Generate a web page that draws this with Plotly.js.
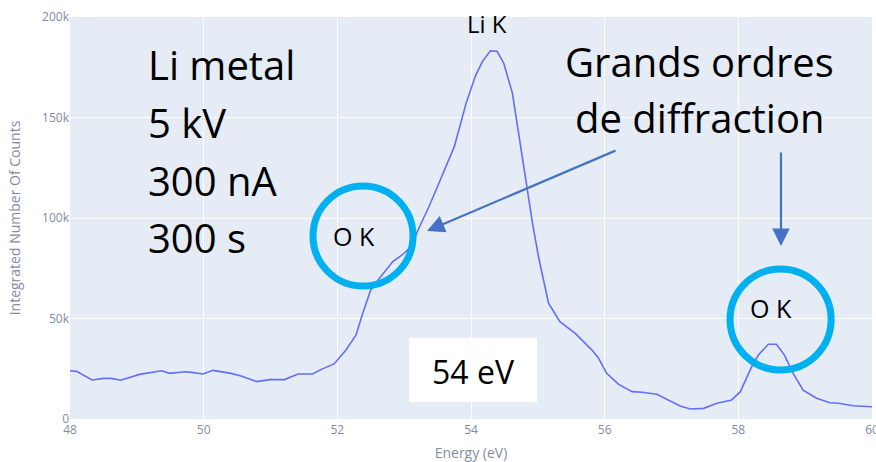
<!DOCTYPE html>
<html>
<head>
<meta charset="utf-8">
<script src="https://cdn.plot.ly/plotly-3.0.1.min.js"></script>
<style>html,body{margin:0;padding:0;background:#fff;}#chart{width:876px;height:462px;}</style>
</head>
<body>
<div id="chart"></div>
<script>
// Energy (eV)
const energy = [48.00,48.10,48.33,48.50,48.62,48.76,49.04,49.19,49.37,49.49,49.72,49.82,49.99,50.14,50.29,50.41,50.56,50.79,50.99,51.21,51.41,51.63,51.76,51.95,52.13,52.28,52.38,52.50,52.63,52.83,52.97,53.10,53.22,53.37,53.52,53.75,53.93,54.07,54.17,54.29,54.39,54.49,54.62,54.72,54.82,54.92,55.01,55.16,55.33,55.56,55.81,55.91,56.03,56.21,56.41,56.56,56.78,56.96,57.13,57.28,57.48,57.68,57.90,58.03,58.20,58.30,58.45,58.57,58.69,58.82,58.97,59.17,59.37,59.50,59.72,60.00];
// Integrated number of counts
const counts = [24000,23700,19400,20200,20200,19300,22200,22900,24000,22700,23500,23200,22400,24200,23400,22700,21400,18600,19600,19600,22400,22400,24700,27400,34300,41800,52600,64200,70000,78300,81600,85700,94900,105600,117300,135500,157500,171000,177800,183200,182900,177000,162000,140400,118900,97400,80700,57600,48400,42600,34300,30200,22700,17200,13600,13300,12300,9500,6500,5000,5300,7800,9500,13600,26000,31800,37200,37200,31800,22700,14400,10300,8100,7800,6600,6100];

const infoLines = ["Li metal","5 kV","300 nA","300 s"];
const noteLines = ["Grands ordres","de diffraction"];
const peakLabel = "Li K";
const oxLabel = "O K";
const resolutionLabel = "54 eV";

const ff = "'Open Sans', 'Noto Sans', sans-serif";
const bigFont = {family:ff, size:40, color:"#000"};
const infoY = [0.883,0.7376,0.5945,0.4515];

const annotations = [];
infoLines.forEach((t,i)=>annotations.push({xref:"paper",yref:"paper",x:0.095,y:infoY[i],xanchor:"left",yanchor:"middle",text:t,showarrow:false,font:bigFont}));
const noteY=[0.889,0.749];
noteLines.forEach((t,i)=>annotations.push({xref:"paper",yref:"paper",x:0.7855,y:noteY[i],xanchor:"center",yanchor:"middle",text:t,showarrow:false,font:bigFont}));
annotations.push({xref:"paper",yref:"paper",x:0.52,y:0.9826,xanchor:"center",yanchor:"middle",text:peakLabel,showarrow:false,font:{family:ff,size:24,color:"#000"}});
annotations.push({xref:"paper",yref:"paper",x:0.354,y:0.454,xanchor:"center",yanchor:"middle",text:oxLabel,showarrow:false,font:{family:ff,size:25,color:"#000"}});
annotations.push({xref:"paper",yref:"paper",x:0.874,y:0.2749,xanchor:"center",yanchor:"middle",text:oxLabel,showarrow:false,font:{family:ff,size:25,color:"#000"}});
annotations.push({xref:"paper",yref:"paper",x:0.5025,y:0.1194,xanchor:"center",yanchor:"middle",text:resolutionLabel,showarrow:false,font:{family:ff,size:32,color:"#000"}});
// arrows
annotations.push({xref:"paper",yref:"paper",x:0.4451,y:0.4677,ax:190,ay:-81,text:"",showarrow:true,arrowhead:2,arrowsize:1.6,arrowwidth:2.2,arrowcolor:"#4472C4",standoff:0});
annotations.push({xref:"paper",yref:"paper",x:0.8865,y:0.4303,ax:0,ay:-95,text:"",showarrow:true,arrowhead:2,arrowsize:1.6,arrowwidth:2.2,arrowcolor:"#4472C4",standoff:0});

const shapes = [
  {type:"rect",xref:"paper",yref:"paper",x0:0.4227,x1:0.5823,y0:0.0423,y1:0.2015,fillcolor:"#ffffff",line:{width:0},layer:"above"},
  {type:"circle",xref:"paper",yref:"paper",x0:0.303,x1:0.4277,y0:0.3308,y1:0.5796,line:{color:"#00B0F0",width:7}},
  {type:"circle",xref:"paper",yref:"paper",x0:0.823,x1:0.949,y0:0.1219,y1:0.3731,line:{color:"#00B0F0",width:7}}
];

const trace = {x:energy,y:counts,type:"scatter",mode:"lines",line:{color:"#636efa",width:1.6},hoverinfo:"skip"};

const layout = {
  width:876,height:462,
  margin:{l:70,r:4,t:17,b:43},
  paper_bgcolor:"#ffffff",plot_bgcolor:"#E5ECF6",
  font:{family:"'Open Sans', verdana, arial, sans-serif",color:"#2a3f5f"},
  showlegend:false,
  xaxis:{range:[48,60],dtick:2,tick0:48,gridcolor:"#ffffff",linecolor:"#ffffff",zeroline:false,
    tickfont:{size:12,color:"#7f8ca6"},automargin:false,ticklabeloverflow:"allow",
    title:{text:"Energy (eV)",font:{size:14,color:"#7f8ca6"},standoff:12}},
  yaxis:{range:[0,200000],dtick:50000,gridcolor:"#ffffff",zeroline:true,zerolinecolor:"#ffffff",zerolinewidth:2,
    tickfont:{size:12,color:"#7f8ca6"},automargin:false,
    title:{text:"Integrated Number Of Counts",font:{size:14,color:"#7f8ca6"},standoff:18}},
  annotations:annotations,
  shapes:shapes
};
Plotly.newPlot("chart",[trace],layout,{displayModeBar:false,staticPlot:true});
</script>
</body>
</html>
